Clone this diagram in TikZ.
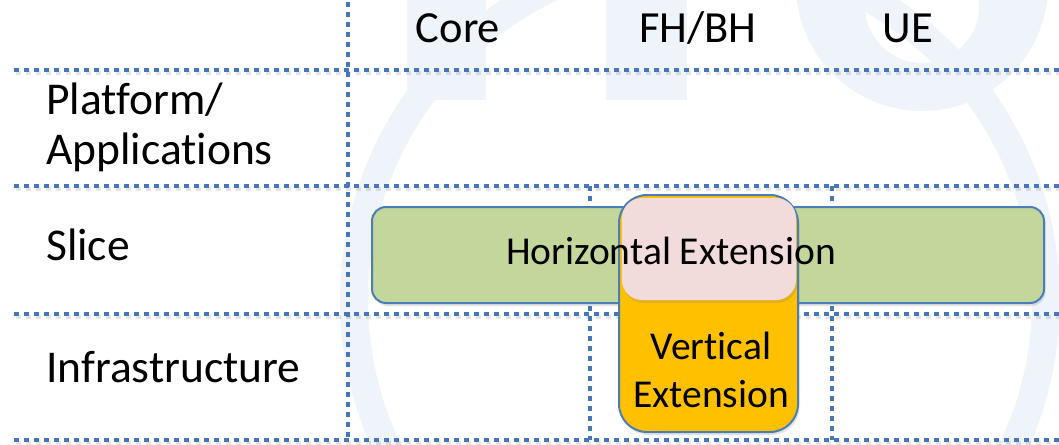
\documentclass[tikz,border=0pt]{standalone}
\usepackage{fontspec}
\setmainfont{Carlito}[Ligatures=NoCommon]
\usetikzlibrary{shadows}
\definecolor{gridblue}{HTML}{4677BA}
\definecolor{boxedge}{HTML}{4A7EBB}
\definecolor{slicegreen}{HTML}{C3D69B}
\definecolor{vertorange}{HTML}{FFC000}
\definecolor{overlappink}{HTML}{F2DCDB}
\definecolor{logotint}{HTML}{EFF3FA}

\begin{document}
\begin{tikzpicture}[x=1pt,y=-1pt,
  gridline/.style={draw=gridblue, line width=4.6pt, dash pattern=on 5pt off 5pt},
  gridshade/.style={draw=black, opacity=0.1, line width=4pt, dash pattern=on 5pt off 5pt},
  rowlabel/.style={font=\fontsize{45.5}{50}\selectfont, inner sep=0pt, anchor=base west},
  colheader/.style={font=\fontsize{44.5}{50}\selectfont, inner sep=0pt, anchor=base},
  boxtext/.style={font=\fontsize{39.5}{46}\selectfont, inner sep=0pt, anchor=base},
  panel/.style={draw=boxedge, line width=2pt, inner sep=0pt},
  softshadow/.style={drop shadow={opacity=0.22, shadow xshift=1.5pt, shadow yshift=-3pt}},
]
\useasboundingbox (0,0) rectangle (1059,444);
\fill[white] (0,0) rectangle (1059,444);

% faint emblem behind the table
\begin{scope}
  \clip (0,0) rectangle (1059,444);
  \fill[logotint] (407,0) rectangle (486,100);
  \fill[logotint] (606,0) rectangle (687,100);
  \fill[logotint, even odd rule] (922,-15) circle (126) (922,6) circle (57);
  \fill[logotint, even odd rule] (700,300) circle (360) (700,300) circle (332);
\end{scope}

% dotted grid, with a light shade under each line
\foreach \y in {70,186,314,440} {
  \draw[gridshade] (16,\y+3) -- (1059,\y+3);
}
\draw[gridline] (14,70) -- (1059,70);
\draw[gridline] (14,186) -- (1059,186);
\draw[gridline] (14,314) -- (1059,314);
\draw[gridline] (14,440) -- (1059,440);
\draw[gridline] (348,2) -- (348,440);
\draw[gridline] (590,186) -- (590,440);
\draw[gridline] (832,186) -- (832,440);

% row and column titles
\node[colheader] (core) at (458,43) {Core};
\node[colheader] (fhbh) at (698,43) {FH/BH};
\node[colheader] (ue) at (908,43) {UE};
\node[rowlabel] (platform) at (46,114) {Platform/};
\node[rowlabel] (apps) at (46,164) {Applications};
\node[rowlabel] (slice) at (46,260) {Slice};
\node[rowlabel] (infra) at (46,382) {Infrastructure};

% extension boxes
\node[panel, softshadow, fill=slicegreen, rounded corners=14pt,
      minimum width=672pt, minimum height=96pt] (hext) at (708,255) {};
\node[panel, softshadow, fill=vertorange, rounded corners=28pt,
      minimum width=179pt, minimum height=237pt] (vext) at (708.5,313.5) {};
\node[softshadow, fill=overlappink, rounded corners=20pt, inner sep=0pt,
      minimum width=174pt, minimum height=102pt] (overlap) at (709,249) {};

\node[boxtext] (htext) at (671,264) {Horizontal Extension};
\node[boxtext] (vtext) at (711,359) {Vertical};
\node[boxtext] (etext) at (711,407) {Extension};
\end{tikzpicture}
\end{document}
